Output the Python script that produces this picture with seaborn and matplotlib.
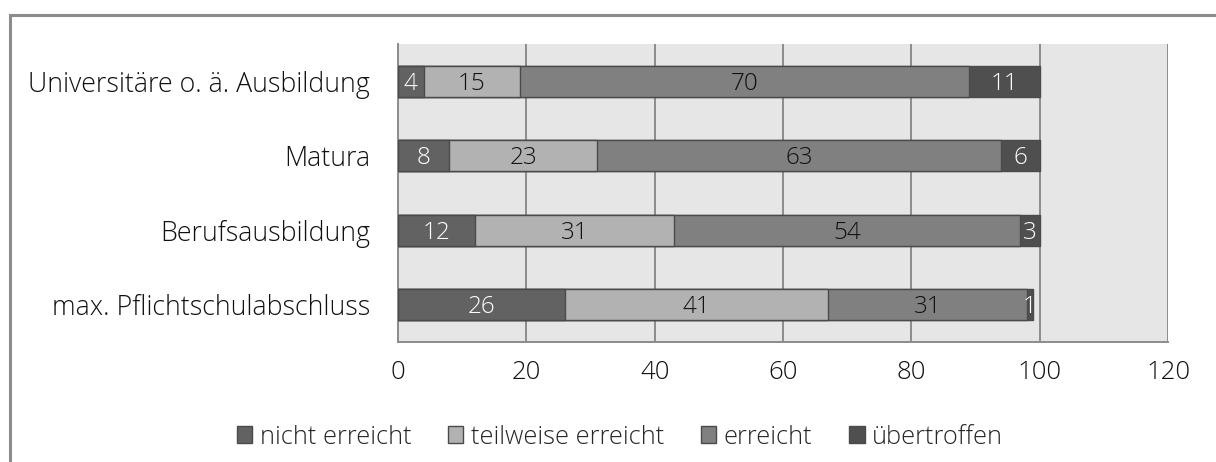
import matplotlib
matplotlib.use("Agg")
import matplotlib.pyplot as plt
from matplotlib.patches import Patch, Rectangle
from matplotlib.transforms import offset_copy
import seaborn as sns
import numpy as np

# Bildungsabschluss categories (top to bottom)
categories = [
    "Universitäre o. ä. Ausbildung",
    "Matura",
    "Berufsausbildung",
    "max. Pflichtschulabschluss",
]
series_names = ["nicht erreicht", "teilweise erreicht", "erreicht", "übertroffen"]
nicht_erreicht = [4, 8, 12, 26]
teilweise_erreicht = [15, 23, 31, 41]
erreicht = [70, 63, 54, 31]
uebertroffen = [11, 6, 3, 1]
x_ticks = [0, 20, 40, 60, 80, 100, 120]

series = [nicht_erreicht, teilweise_erreicht, erreicht, uebertroffen]
colors = ["#626262", "#b2b2b2", "#808080", "#4f4f4f"]
text_colors = ["white", "#111111", "#111111", "white"]
edge = "#4a4a4a"
grid_c = "#8c8c8c"

sns.set_theme(style="white")
plt.rcParams["font.family"] = ["Open Sans", "DejaVu Sans"]
plt.rcParams["font.weight"] = "light"

fig = plt.figure(figsize=(12.16, 4.62), dpi=100)
ax = fig.add_axes([398 / 1216, 1 - 342 / 462, 770 / 1216, 298 / 462])
ax.set_facecolor("#e6e6e6")

# stacked bars: draw cumulative totals from the longest down
cum = np.cumsum(np.array(series, dtype=float), axis=0)
for k in range(len(series) - 1, -1, -1):
    sns.barplot(x=cum[k], y=categories, orient="h", color=colors[k],
                width=0.42, edgecolor=edge, linewidth=1.0, saturation=1,
                ax=ax, zorder=3)

# segment value labels, baseline nudged so the digits sit centred in the bar
label_tf = offset_copy(ax.transData, fig=fig, y=-6.2, units="points")
for k, vals in enumerate(series):
    lefts = cum[k] - np.array(vals)
    for i, v in enumerate(vals):
        ax.text(lefts[i] + v / 2, i, f"{v}", ha="center", va="baseline",
                transform=label_tf, color=text_colors[k], fontsize=17.5, zorder=5)

ax.set_xlim(0, 120)
ax.set_ylim(3.5, -0.5)
ax.set_xticks(x_ticks)
ax.set_xticklabels([str(t) for t in x_ticks], fontsize=18.5, color="#111111")
ax.xaxis.grid(True, color=grid_c, linewidth=1.4, zorder=0)
ax.set_axisbelow(True)
ax.tick_params(axis="x", direction="out", length=7, width=1.4, color=grid_c, pad=6)

ax.set_yticks(range(len(categories)))
ax.set_yticklabels(categories, fontsize=19.3, color="#111111")
ax.tick_params(axis="y", which="major", length=0, pad=20)
ax.set_yticks(np.arange(-0.5, len(categories)), minor=True)
ax.tick_params(axis="y", which="minor", direction="out", length=8, width=1.4, color=grid_c)
ax.set_xlabel("")
ax.set_ylabel("")

for side in ["top", "right"]:
    ax.spines[side].set_visible(False)
for side in ["left", "bottom"]:
    ax.spines[side].set_color(grid_c)
    ax.spines[side].set_linewidth(1.4)

# legend below the plot
handles = [Patch(facecolor=c, edgecolor=edge, linewidth=1.0) for c in colors]
fig.legend(handles, series_names, loc="center", ncol=4,
           bbox_to_anchor=(620 / 1216, 1 - 437 / 462), frameon=False,
           handlelength=0.6, handleheight=0.6, handletextpad=0.3,
           columnspacing=1.45, fontsize=18.3)

# chart frame
fig.patches.append(Rectangle((10 / 1216, -0.2), 1.2, 1.2 - 15 / 462,
                             transform=fig.transFigure, fill=False,
                             edgecolor="#8c8c8c", linewidth=2.2))

fig.savefig("out.png", dpi=100)
